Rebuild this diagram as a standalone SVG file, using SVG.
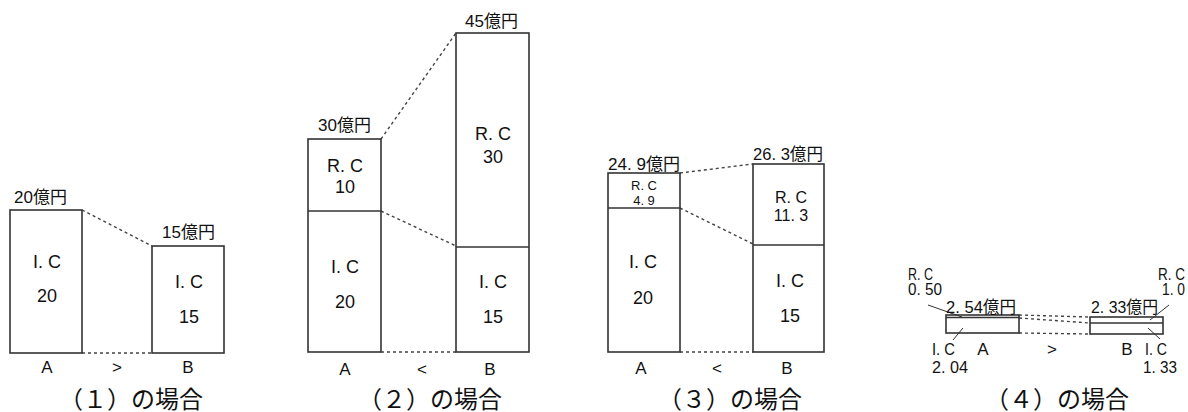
<svg xmlns="http://www.w3.org/2000/svg" width="1188" height="412" viewBox="0 0 1188 412">
<style>
.box{fill:none;stroke:#333;stroke-width:1.6}
.div{stroke:#333;stroke-width:1.4}
.dash{stroke:#444;stroke-width:1.4;stroke-dasharray:3 3;fill:none}
.lead{stroke:#333;stroke-width:1}
text{font-family:"Liberation Sans","Noto Sans CJK JP",sans-serif;fill:#111}
.t{font-size:17px}
.v{font-size:18px;text-anchor:middle}
.m{font-size:16px;text-anchor:middle}
.s{font-size:13px;text-anchor:middle}
.ab{font-size:17px;text-anchor:middle}
.q{font-size:16px}
.r{font-size:17px}
.cap{font-family:"Liberation Serif","Noto Sans CJK JP",serif;font-size:24px;text-anchor:middle}
</style>
<rect width="1188" height="412" fill="#fff"/>
<g id="connectors">
<line class="dash" x1="82" y1="210" x2="152" y2="246"/>
<line class="dash" x1="82" y1="353" x2="152" y2="353"/>
<line class="dash" x1="381" y1="139" x2="456" y2="33"/>
<line class="dash" x1="381" y1="211" x2="456" y2="246"/>
<line class="dash" x1="381" y1="352" x2="456" y2="352"/>
<line class="dash" x1="680" y1="173" x2="753" y2="164"/>
<line class="dash" x1="680" y1="208" x2="753" y2="244"/>
<line class="dash" x1="680" y1="352" x2="753" y2="352"/>
<line class="dash" x1="1019" y1="315" x2="1090" y2="317"/>
<line class="dash" x1="1019" y1="318" x2="1090" y2="323"/>
<line class="dash" x1="1019" y1="333" x2="1090" y2="334"/>
<line class="lead" x1="928" y1="305" x2="962" y2="317"/>
<line class="lead" x1="953" y1="340" x2="963" y2="328"/>
<line class="lead" x1="1169" y1="305" x2="1150" y2="320"/>
<line class="lead" x1="1148" y1="328" x2="1160" y2="339"/>
</g>
<g id="p1A">
<rect class="box" x="10" y="210" width="72" height="143"/>
<text class="t" x="14" y="203">20億円</text>
<text class="v" x="47" y="268">I. C</text>
<text class="v" x="47" y="302">20</text>
</g>
<g id="p1B">
<rect class="box" x="152" y="246" width="72" height="107"/>
<text class="t" x="162" y="238">15億円</text>
<text class="v" x="189" y="288">I. C</text>
<text class="v" x="189" y="323">15</text>
</g>
<g id="p1labels">
<text class="ab" x="47" y="373">A</text>
<text class="ab" x="117" y="373">&gt;</text>
<text class="ab" x="188" y="373">B</text>
<text class="cap" x="131" y="408">（１）の場合</text>
</g>
<g id="p2A">
<rect class="box" x="308" y="139" width="73" height="213"/>
<line class="div" x1="308" y1="211" x2="381" y2="211"/>
<text class="t" x="318" y="131">30億円</text>
<text class="v" x="345" y="172">R. C</text>
<text class="v" x="345" y="193">10</text>
<text class="v" x="345" y="273">I. C</text>
<text class="v" x="345" y="308">20</text>
</g>
<g id="p2B">
<rect class="box" x="456" y="33" width="73" height="319"/>
<line class="div" x1="456" y1="247" x2="529" y2="247"/>
<text class="t" x="465" y="27">45億円</text>
<text class="v" x="493" y="140">R. C</text>
<text class="v" x="493" y="163">30</text>
<text class="v" x="493" y="288">I. C</text>
<text class="v" x="493" y="323">15</text>
</g>
<g id="p2labels">
<text class="ab" x="345" y="375">A</text>
<text class="ab" x="422" y="375">&lt;</text>
<text class="ab" x="490" y="375">B</text>
<text class="cap" x="430" y="408">（２）の場合</text>
</g>
<g id="p3A">
<rect class="box" x="608" y="173" width="72" height="179"/>
<line class="div" x1="608" y1="208" x2="680" y2="208"/>
<text class="t" x="608" y="170" textLength="72" lengthAdjust="spacingAndGlyphs">24. 9億円</text>
<text class="s" x="644" y="190">R. C</text>
<text class="s" x="644" y="205">4. 9</text>
<text class="v" x="643" y="268">I. C</text>
<text class="v" x="643" y="304">20</text>
</g>
<g id="p3B">
<rect class="box" x="753" y="164" width="71" height="188"/>
<line class="div" x1="753" y1="245" x2="824" y2="245"/>
<text class="t" x="753" y="160" textLength="70" lengthAdjust="spacingAndGlyphs">26. 3億円</text>
<text class="m" x="791" y="203">R. C</text>
<text class="m" x="791" y="221">11. 3</text>
<text class="v" x="790" y="287">I. C</text>
<text class="v" x="790" y="322">15</text>
</g>
<g id="p3labels">
<text class="ab" x="641" y="374">A</text>
<text class="ab" x="717" y="374">&lt;</text>
<text class="ab" x="787" y="374">B</text>
<text class="cap" x="730" y="408">（３）の場合</text>
</g>
<g id="p4A">
<rect class="box" x="946" y="315" width="73" height="18"/>
<line class="div" x1="946" y1="317.5" x2="1019" y2="317.5"/>
<text class="q" x="908" y="280" textLength="25" lengthAdjust="spacingAndGlyphs">R. C</text>
<text class="q" x="908" y="295" textLength="34" lengthAdjust="spacingAndGlyphs">0. 50</text>
<text class="r" x="946" y="313" textLength="70" lengthAdjust="spacingAndGlyphs">2. 54億円</text>
<text class="r" x="932" y="355" textLength="23" lengthAdjust="spacingAndGlyphs">I. C</text>
<text class="r" x="932" y="373" textLength="36" lengthAdjust="spacingAndGlyphs">2. 04</text>
</g>
<g id="p4B">
<rect class="box" x="1090" y="317" width="73" height="17"/>
<line class="div" x1="1090" y1="323" x2="1163" y2="323"/>
<text class="q" x="1158" y="280" textLength="27" lengthAdjust="spacingAndGlyphs">R. C</text>
<text class="q" x="1162" y="295" textLength="23" lengthAdjust="spacingAndGlyphs">1. 0</text>
<text class="r" x="1091" y="313" textLength="67" lengthAdjust="spacingAndGlyphs">2. 33億円</text>
<text class="r" x="1145" y="355" textLength="22" lengthAdjust="spacingAndGlyphs">I. C</text>
<text class="r" x="1143" y="373" textLength="34" lengthAdjust="spacingAndGlyphs">1. 33</text>
</g>
<g id="p4labels">
<text class="ab" x="983" y="355">A</text>
<text class="ab" x="1052" y="355">&gt;</text>
<text class="ab" x="1127" y="355">B</text>
<text class="cap" x="1057" y="408">（４）の場合</text>
</g>
</svg>
